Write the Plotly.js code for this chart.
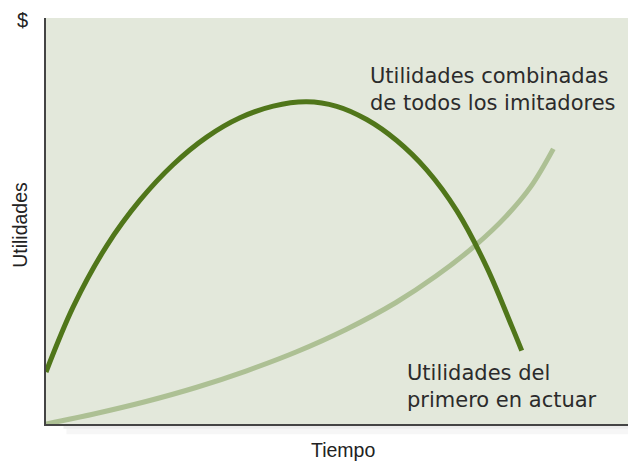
<!DOCTYPE html>
<html>
<head>
<meta charset="utf-8">
<script src="https://cdn.plot.ly/plotly-3.0.1.min.js"></script>
<style>
  html, body { margin: 0; padding: 0; background: #ffffff; }
  #chart { width: 628px; height: 463px; }
</style>
</head>
<body>
<div id="chart"></div>
<script>
// Time (0-100) and profit (0-100)
const imitTime = [0, 4.69, 10.43, 16.15, 21.87, 27.61, 33.33, 39.05, 44.79, 49.95, 55.10, 60.26, 65.41, 70.57, 75.72, 80.02, 81.74];
const imitProfit = [12.81, 28.92, 43.89, 55.12, 63.92, 70.67, 75.42, 78.30, 79.36, 78.25, 75.00, 69.83, 62.59, 52.54, 38.65, 24.11, 18.08];

const firstTime = [0, 8.59, 17.18, 25.77, 34.36, 42.96, 51.55, 60.14, 67.01, 73.88, 79.04, 83.33, 87.17];
const firstProfit = [0, 2.59, 5.54, 8.99, 13.05, 17.73, 23.28, 29.93, 36.43, 44.11, 51.13, 58.52, 67.76];

const labelFont = 'DejaVu Sans, Liberation Sans, sans-serif';
const axisFont = 'Liberation Sans, Arial, sans-serif';

const traces = [
  {
    x: firstTime,
    y: firstProfit,
    type: 'scatter',
    mode: 'lines',
    line: { color: '#adc094', width: 5, shape: 'spline', smoothing: 1 },
    hoverinfo: 'skip'
  },
  {
    x: imitTime,
    y: imitProfit,
    type: 'scatter',
    mode: 'lines',
    line: { color: '#50761a', width: 5, shape: 'spline', smoothing: 1 },
    hoverinfo: 'skip'
  }
];

const layout = {
  width: 628,
  height: 463,
  margin: { l: 46, r: 0, t: 18, b: 39 },
  paper_bgcolor: '#ffffff',
  plot_bgcolor: '#e3e8db',
  showlegend: false,
  xaxis: {
    range: [0, 100],
    showgrid: false,
    zeroline: false,
    showticklabels: false,
    ticks: '',
    showline: true,
    linecolor: '#444444',
    linewidth: 2,
    fixedrange: true
  },
  yaxis: {
    range: [0, 100],
    showgrid: false,
    zeroline: false,
    showticklabels: false,
    ticks: '',
    showline: true,
    linecolor: '#444444',
    linewidth: 2,
    fixedrange: true
  },
  shapes: [
    // soft shadow under the base line
    { type: 'rect', xref: 'paper', yref: 'paper', x0: 0.03, x1: 1, y0: -0.012, y1: 0,
      fillcolor: 'rgba(0,0,0,0.07)', line: { width: 0 }, layer: 'below' },
    { type: 'rect', xref: 'paper', yref: 'paper', x0: 0.035, x1: 1, y0: -0.025, y1: -0.012,
      fillcolor: 'rgba(0,0,0,0.035)', line: { width: 0 }, layer: 'below' }
  ],
  annotations: [
    {
      text: '$', xref: 'paper', yref: 'paper', x: -0.04, y: 0.995,
      xanchor: 'center', yanchor: 'middle',
      showarrow: false, font: { family: axisFont, size: 20, color: '#222222' }
    },
    {
      text: 'Utilidades', xref: 'paper', yref: 'paper', x: -0.045, y: 0.49,
      xanchor: 'center', yanchor: 'middle', textangle: -90, showarrow: false,
      font: { family: axisFont, size: 19.5, color: '#222222' }
    },
    {
      text: 'Tiempo', xref: 'paper', yref: 'paper', x: 0.51, y: -0.064,
      xanchor: 'center', yanchor: 'middle',
      showarrow: false, font: { family: axisFont, size: 19.5, color: '#222222' }
    },
    {
      text: 'Utilidades combinadas<br>de todos los imitadores',
      xref: 'x', yref: 'y', x: 55.4, y: 82.5, xanchor: 'left', align: 'left',
      showarrow: false, font: { family: labelFont, size: 21, color: '#2b2b2b' }
    },
    {
      text: 'Utilidades del<br>primero en actuar',
      xref: 'x', yref: 'y', x: 61.6, y: 9.2, xanchor: 'left', align: 'left',
      showarrow: false, font: { family: labelFont, size: 21, color: '#2b2b2b' }
    }
  ]
};

Plotly.newPlot('chart', traces, layout, { staticPlot: true });
</script>
</body>
</html>
